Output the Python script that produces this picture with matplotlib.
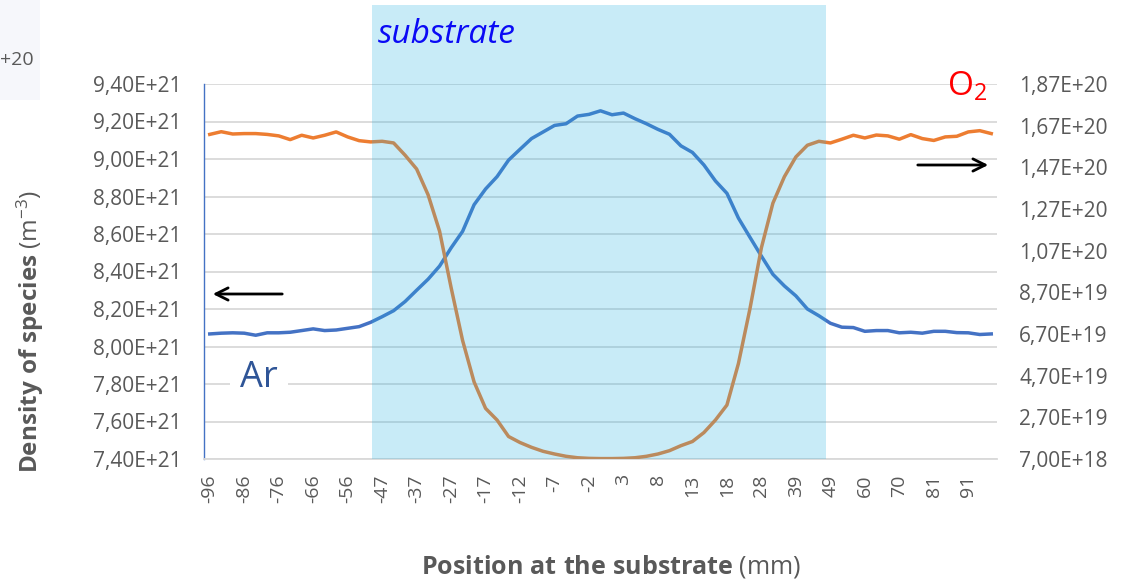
import numpy as np
import matplotlib
matplotlib.use("Agg")
import matplotlib.pyplot as plt
from matplotlib.ticker import FuncFormatter
from matplotlib.patches import Rectangle
from matplotlib.transforms import blended_transform_factory

plt.rcParams['font.family'] = ['Open Sans', 'DejaVu Sans']
plt.rcParams['mathtext.fontset'] = 'custom'
plt.rcParams['mathtext.rm'] = 'Open Sans'
plt.rcParams['mathtext.bf'] = 'Open Sans:bold'
plt.rcParams['mathtext.it'] = 'Open Sans:italic'

# x tick labels (position in mm), one label every 3 samples
x_labels = ['-96', '-86', '-76', '-66', '-56', '-47', '-37', '-27', '-17', '-12', '-7', '-2',
            '3', '8', '13', '18', '28', '39', '49', '60', '70', '81', '91']

# Ar density, units of 1e21 m^-3 (left axis)
ar_density = [8.067, 8.071, 8.073, 8.071, 8.060, 8.073, 8.073, 8.076, 8.085, 8.094,
              8.085, 8.088, 8.097, 8.106, 8.129, 8.159, 8.191, 8.240, 8.300, 8.359,
              8.429, 8.526, 8.614, 8.756, 8.840, 8.906, 8.994, 9.052, 9.109, 9.144,
              9.179, 9.188, 9.229, 9.238, 9.257, 9.236, 9.245, 9.215, 9.188, 9.158,
              9.132, 9.070, 9.035, 8.968, 8.883, 8.817, 8.685, 8.583, 8.482, 8.385,
              8.323, 8.270, 8.200, 8.164, 8.124, 8.103, 8.101, 8.081, 8.085, 8.085,
              8.073, 8.076, 8.071, 8.081, 8.081, 8.074, 8.073, 8.064, 8.067]

# O2 density, units of 1e19 m^-3 (right axis)
o2_density = [16.28, 16.41, 16.30, 16.32, 16.32, 16.28, 16.21, 16.03, 16.24, 16.11,
              16.24, 16.40, 16.16, 15.98, 15.92, 15.95, 15.87, 15.28, 14.62, 13.38,
              11.63, 8.93, 6.39, 4.40, 3.13, 2.57, 1.78, 1.49, 1.26, 1.07,
              0.94, 0.83, 0.76, 0.73, 0.72, 0.72, 0.73, 0.76, 0.83, 0.94,
              1.10, 1.34, 1.54, 1.97, 2.57, 3.29, 5.28, 7.90, 10.84, 12.98,
              14.25, 15.20, 15.76, 15.95, 15.87, 16.05, 16.24, 16.11, 16.25, 16.21,
              16.05, 16.27, 16.08, 15.99, 16.16, 16.19, 16.40, 16.46, 16.32]

# substrate zone, in sample index units
substrate_span = (14.1, 53.6)

gray = '#595959'
W, H = 1124, 580


def fx(x):
    return x / W


def fy(y):
    return 1 - y / H


fig = plt.figure(figsize=(W / 100, H / 100), dpi=100)
ax = fig.add_axes([fx(204), fy(459), (997 - 204) / W, (459 - 84) / H])
ax2 = ax.twinx()

x = np.arange(len(ar_density))
ax.plot(x, np.array(ar_density) * 1e21, color='#4472C4', lw=2.5, zorder=3)
ax2.plot(x, np.array(o2_density) * 1e19, color='#ED7D31', lw=2.5, zorder=3)

ax.set_xlim(-0.5, len(x) - 0.5)
ax.set_ylim(7.4e21, 9.4e21)
ax.set_yticks(np.linspace(7.4e21, 9.4e21, 11))
ax2.set_ylim(0.7e19, 18.7e19)
ax2.set_yticks(np.linspace(0.7e19, 18.7e19, 10))

fmt = FuncFormatter(lambda v, p: f"{v:.2E}".replace('.', ','))
ax.yaxis.set_major_formatter(fmt)
ax2.yaxis.set_major_formatter(fmt)

ax.set_xticks(x[::3])
ax.set_xticklabels(x_labels, rotation=90)

ax.tick_params(axis='y', length=0, pad=16, labelsize=15, labelcolor=gray)
ax.tick_params(axis='x', length=0, pad=11, labelsize=14, labelcolor=gray)
ax2.tick_params(axis='y', length=0, pad=16, labelsize=15, labelcolor=gray)

ax.yaxis.grid(True, color='#d9d9d9', lw=1.3)
ax.set_axisbelow(True)
for s in ['top', 'right']:
    ax.spines[s].set_visible(False)
ax.spines['left'].set_color('#4472C4')
ax.spines['left'].set_linewidth(1.0)
ax.spines['bottom'].set_color('#d9d9d9')
ax.spines['bottom'].set_linewidth(1.3)
for s in ax2.spines.values():
    s.set_visible(False)

# translucent substrate band, drawn over the curves
trans = blended_transform_factory(ax2.transData, ax2.transAxes)
ax2.add_patch(Rectangle((substrate_span[0], 0), substrate_span[1] - substrate_span[0], 1.21,
                        transform=trans, facecolor=(39 / 255, 179 / 255, 227 / 255),
                        alpha=0.25, lw=0, zorder=10, clip_on=False))

# faint leftover from a neighbouring chart
fig.patches.append(Rectangle((0, fy(100)), fx(40), 100 / H, transform=fig.transFigure,
                             facecolor='#f6f7fb', edgecolor='none', zorder=0))
fig.text(fx(0), fy(65), '+20', fontsize=14, color=gray, ha='left', va='baseline')

fig.text(fx(378), fy(43), 'substrate', fontsize=24, style='italic', color='#0a0af5',
         ha='left', va='baseline')
fig.text(fx(240), fy(387), 'Ar', fontsize=26, color='#2F5597', ha='left', va='baseline',
         bbox=dict(facecolor='white', edgecolor='none', pad=7))
fig.text(fx(947), fy(96), r'O$_2$', fontsize=24, color='red', ha='left', va='baseline')

arrow = dict(arrowstyle='->', lw=2, color='black', mutation_scale=22)
fig.add_artist(plt.Annotation('', xy=(fx(210), fy(294)), xytext=(fx(285), fy(294)),
                              xycoords='figure fraction', arrowprops=arrow))
fig.add_artist(plt.Annotation('', xy=(fx(991), fy(165)), xytext=(fx(915), fy(165)),
                              xycoords='figure fraction', arrowprops=arrow))

fig.text(fx(611), fy(566), r'$\mathbf{Position\ at\ the\ substrate}$ (mm)', fontsize=18,
         color=gray, ha='center', va='center')
fig.text(fx(30), fy(332), r'$\mathbf{Density\ of\ species}$ (m$^{-3}$)', fontsize=17.5,
         color=gray, ha='center', va='center', rotation=90)

fig.savefig('out.png', dpi=100)
